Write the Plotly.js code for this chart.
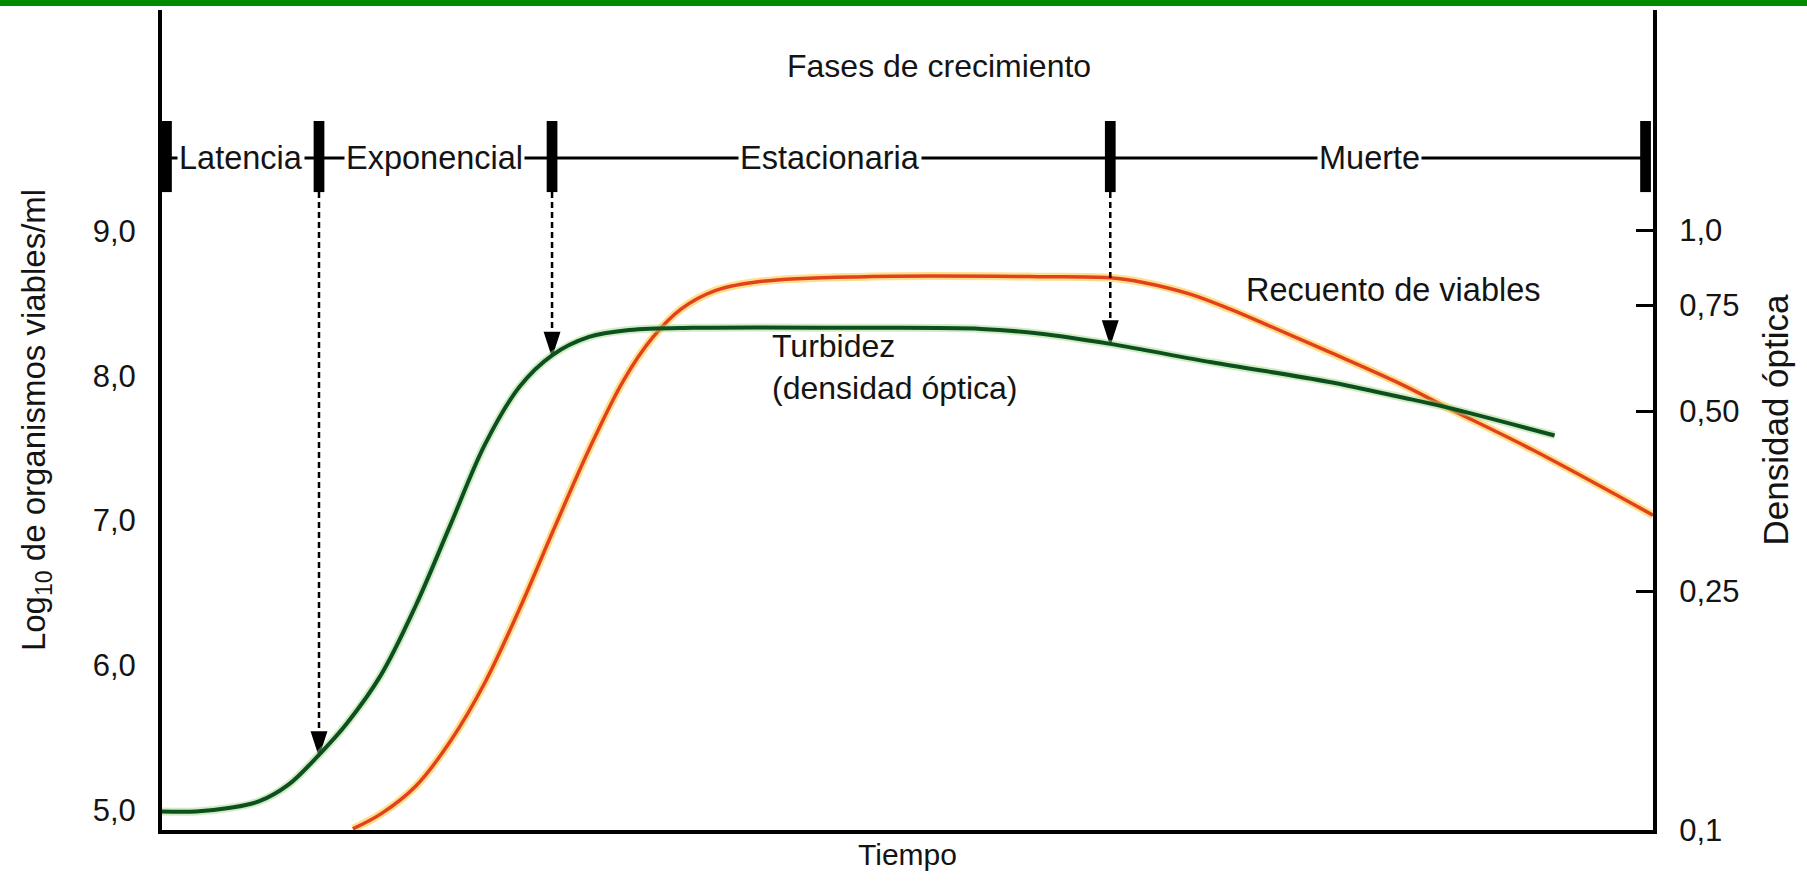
<!DOCTYPE html>
<html>
<head>
<meta charset="utf-8">
<script src="https://cdn.plot.ly/plotly-3.0.1.min.js"></script>
<style>
  html, body { margin: 0; padding: 0; background: #ffffff; }
  #chart { width: 1807px; height: 881px; }
</style>
</head>
<body>
<div id="chart"></div>
<script>
// ---------------- DATA ----------------
// Time axis is in arbitrary units (0 .. 100), no tick labels in the original.
const greenTime = [0, 2.28, 4.59, 6.53, 8.46, 10.53, 12.38, 14.71, 17.03, 19.35, 21.67, 23.99, 26.16,
                   28.64, 31.35, 35.6, 47.2, 54.95, 58.8, 63.6, 70.4, 78.2, 83.2, 86.1, 93.4];
// Turbidity (optical density, right log axis)
const greenOD = [0.1074, 0.1074, 0.1089, 0.1117, 0.1189, 0.1335, 0.1504, 0.1818, 0.2371, 0.3232,
                 0.4403, 0.5493, 0.6193, 0.6646, 0.6823, 0.6884, 0.6884, 0.6855, 0.6735, 0.6471,
                 0.6029, 0.5595, 0.5267, 0.5075, 0.4552];

const redTime = [12.8, 14.71, 17.03, 19.35, 21.67, 23.99, 26.32, 28.64, 30.96, 32.9, 34.83, 37.15,
                 40.25, 47.2, 58.8, 63.6, 65.8, 68.9, 71.6, 74.3, 78.2, 83.2, 86.1, 91.95, 100];
// Viable count, log10 organisms/ml (left axis)
const redLog = [4.87, 4.975, 5.166, 5.477, 5.883, 6.392, 6.950, 7.491, 7.969, 8.263, 8.462, 8.590,
                8.653, 8.685, 8.685, 8.677, 8.645, 8.566, 8.462, 8.343, 8.168, 7.937, 7.785, 7.487, 7.037];

// Growth phases
const phaseBounds = [0.3, 10.53, 26.16, 63.6, 99.5];
const phaseNames = ["Latencia", "Exponencial", "Estacionaria", "Muerte"];
const phaseLabelX = [5.3, 18.3, 44.8, 81.0];
const arrowBounds = [10.53, 26.16, 63.6];

// Axis ticks
const leftTickVals = [5, 6, 7, 8, 9];
const leftTickText = ["5,0", "6,0", "7,0", "8,0", "9,0"];
const rightTickVals = [0.1, 0.25, 0.5, 0.75, 1.0];
const rightTickText = ["0,1", "0,25", "0,50", "0,75", "1,0"];

// ---------------- LAYOUT CONSTANTS ----------------
const W = 1807, H = 881;
const M = { l: 162, r: 154, t: 10, b: 51 };
const yRange = [4.862, 10.527];
const y2Range = [-1, 0.368];      // log10 units
const barY = 9.504, markTop = 9.76, markBot = 9.269;
const FONT = "Liberation Sans, Arial, Helvetica, sans-serif";
const TXT = "#141414";

// map an OD value (right log axis) to the left-axis value at the same height
function odToLeft(od) {
  const f = (Math.log10(od) - y2Range[0]) / (y2Range[1] - y2Range[0]);
  return yRange[0] + f * (yRange[1] - yRange[0]);
}

const traces = [
  { x: redTime, y: redLog, yaxis: "y", mode: "lines", hoverinfo: "skip",
    line: { color: "rgba(255,196,40,0.55)", width: 8, shape: "spline", smoothing: 1 } },
  { x: redTime, y: redLog, yaxis: "y", mode: "lines", name: "Recuento de viables",
    line: { color: "#e2401e", width: 3.5, shape: "spline", smoothing: 1 } },
  { x: greenTime, y: greenOD, yaxis: "y2", mode: "lines", hoverinfo: "skip",
    line: { color: "rgba(150,215,120,0.45)", width: 8, shape: "spline", smoothing: 1 } },
  { x: greenTime, y: greenOD, yaxis: "y2", mode: "lines", name: "Turbidez",
    line: { color: "#0d4f20", width: 4, shape: "spline", smoothing: 1 } }
];

// dashed drop lines from the phase markers to the turbidity curve, ending in arrowheads
arrowBounds.forEach(b => {
  const i = greenTime.indexOf(b);
  const tip = odToLeft(greenOD[i]);
  traces.push({ x: [b, b], y: [markBot, tip], yaxis: "y", mode: "lines+markers", hoverinfo: "skip",
    line: { color: "#000000", width: 2.5, dash: "6px,4px" },
    marker: { symbol: ["circle", "arrow"], size: [0, 24], color: "#000000", opacity: 1,
              angleref: "previous", line: { width: 1.5, color: "#000000" } } });
});

const shapes = [];
// green frame bar at the very top
shapes.push({ type: "rect", xref: "paper", yref: "paper",
  x0: -M.l / (W - M.l - M.r), x1: 1 + M.r / (W - M.l - M.r),
  y0: 1 + (M.t - 6) / (H - M.t - M.b), y1: 1 + M.t / (H - M.t - M.b),
  line: { width: 0 }, fillcolor: "#008c00" });
// phase line
shapes.push({ type: "line", xref: "x", yref: "y", x0: phaseBounds[0], x1: phaseBounds[phaseBounds.length - 1],
  y0: barY, y1: barY, line: { color: "black", width: 3 } });
// phase markers
phaseBounds.forEach(b => {
  shapes.push({ type: "rect", xref: "x", yref: "y", x0: b - 0.36, x1: b + 0.36,
    y0: markBot, y1: markTop, line: { width: 0 }, fillcolor: "black" });
});

const annotations = [];
phaseNames.forEach((n, k) => {
  annotations.push({ x: phaseLabelX[k], y: barY, xref: "x", yref: "y", text: n, showarrow: false,
    xanchor: "center", yanchor: "middle", bgcolor: "white", borderpad: 1,
    font: { family: FONT, size: 32.5, color: TXT } });
});

annotations.push({ x: 52.1, y: 10.14, xref: "x", yref: "y", text: "Fases de crecimiento",
  showarrow: false, font: { family: FONT, size: 32, color: TXT } });
annotations.push({ x: 82.6, y: 8.59, xref: "x", yref: "y", text: "Recuento de viables",
  showarrow: false, font: { family: FONT, size: 32.5, color: TXT } });
annotations.push({ x: 40.8, y: 8.06, xref: "x", yref: "y", text: "Turbidez<br>(densidad óptica)",
  showarrow: false, xanchor: "left", align: "left", font: { family: FONT, size: 32, color: TXT } });

const layout = {
  width: W, height: H,
  margin: M,
  paper_bgcolor: "white", plot_bgcolor: "white",
  showlegend: false,
  font: { family: FONT, size: 31, color: TXT },
  xaxis: {
    range: [0, 100], showgrid: false, zeroline: false, showticklabels: false, ticks: "",
    showline: true, linecolor: "black", linewidth: 4,
    title: { text: "Tiempo", font: { family: FONT, size: 30, color: TXT }, standoff: 12 }
  },
  yaxis: {
    range: yRange, showgrid: false, zeroline: false,
    tickvals: leftTickVals, ticktext: leftTickText,
    ticks: "outside", ticklen: 16, tickcolor: "rgba(0,0,0,0)",
    showline: true, linecolor: "black", linewidth: 4,
    tickfont: { family: FONT, size: 31, color: TXT },
    title: { text: "Log<sub>10</sub> de organismos viables/ml", font: { family: FONT, size: 33, color: TXT }, standoff: 38 }
  },
  yaxis2: {
    type: "log", range: y2Range, overlaying: "y", side: "right",
    showgrid: false, zeroline: false,
    tickvals: rightTickVals, ticktext: rightTickText,
    ticks: "inside", ticklen: 17, tickwidth: 3, tickcolor: "black",
    ticklabelstandoff: 16,
    showline: true, linecolor: "black", linewidth: 4,
    tickfont: { family: FONT, size: 31, color: TXT },
    title: { text: "Densidad óptica", font: { family: FONT, size: 35, color: TXT }, standoff: 26 }
  },
  shapes: shapes,
  annotations: annotations
};

Plotly.newPlot("chart", traces, layout, { staticPlot: true, displayModeBar: false });
</script>
</body>
</html>
